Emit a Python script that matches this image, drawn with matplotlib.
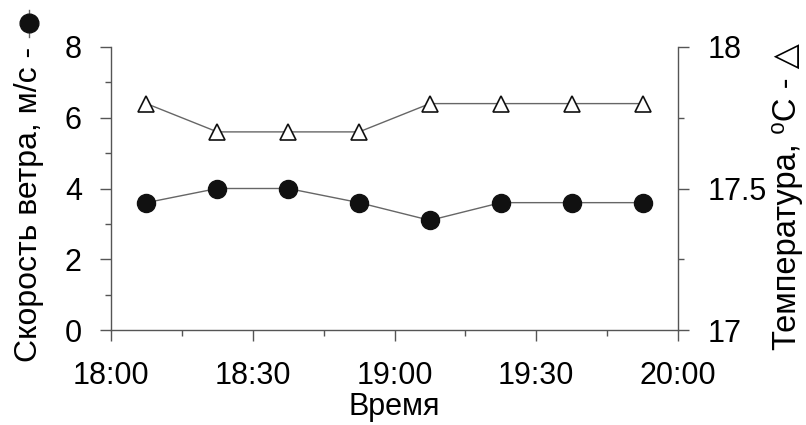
import numpy as np
import matplotlib
matplotlib.use('Agg')
import matplotlib.pyplot as plt
from matplotlib.ticker import MultipleLocator
from matplotlib.lines import Line2D

plt.rcParams['font.family'] = ['Liberation Sans', 'DejaVu Sans']

# data
minutes = [7.5, 22.5, 37.5, 52.5, 67.5, 82.5, 97.5, 112.5]  # minutes after 18:00
wind = [3.6, 4.0, 4.0, 3.6, 3.1, 3.6, 3.6, 3.6]
temp = [17.8, 17.7, 17.7, 17.7, 17.8, 17.8, 17.8, 17.8]
xtick_pos = [0, 30, 60, 90, 120]
xtick_labels = ['18:00', '18:30', '19:00', '19:30', '20:00']
t_ticks = [17, 17.5, 18]
t_labels = ['17', '17.5', '18']

axis_col = '#555555'
line_col = '#666666'

fig = plt.figure(figsize=(8.06, 4.25), dpi=100)
ax = fig.add_axes([111 / 806, 1 - 330 / 425, (678 - 111) / 806, (330 - 47) / 425])
ax2 = ax.twinx()

ax.plot(minutes, wind, color=line_col, linewidth=1.0, marker='o', markersize=13,
        markerfacecolor='#111111', markeredgecolor='#111111', zorder=3)
ax2.plot(minutes, temp, color=line_col, linewidth=1.0, marker='^', markersize=12,
         markerfacecolor='white', markeredgecolor='#111111', markeredgewidth=1.2, zorder=3)

ax.set_xlim(0, 120)
ax.set_ylim(0, 8)
ax2.set_ylim(17, 18)

ax.set_xticks(xtick_pos)
ax.set_xticklabels(xtick_labels)
ax.xaxis.set_minor_locator(MultipleLocator(15))
ax.yaxis.set_major_locator(MultipleLocator(2))
ax.yaxis.set_minor_locator(MultipleLocator(1))
ax2.set_yticks(t_ticks)
ax2.set_yticklabels(t_labels)
ax2.yaxis.set_minor_locator(MultipleLocator(0.25))

for a in (ax, ax2):
    a.spines['top'].set_visible(False)
    for s in a.spines.values():
        s.set_color(axis_col)
        s.set_linewidth(1.0)
    a.tick_params(which='major', length=8, width=1, color=axis_col, labelsize=22, pad=13)
    a.tick_params(which='minor', length=4, width=1, color=axis_col)
ax2.spines['left'].set_visible(False)
ax2.spines['bottom'].set_visible(False)
ax.spines['right'].set_visible(False)
ax.tick_params(axis='x', pad=14)

ax.set_xlabel('Время', fontsize=22, labelpad=1)
ax.set_ylabel('Скорость ветра, м/с -', fontsize=23)
ax.yaxis.set_label_coords(-0.118, 0.445)
ax2.set_ylabel('Температура, ⁰C - △', fontsize=23.5, rotation=90)
ax2.yaxis.set_label_coords(1.166, 0.47)

# symbol after the left axis label (line with marker, like a legend key)
fig.canvas.draw()
bb = ax.yaxis.label.get_window_extent()
W, H = fig.bbox.width, fig.bbox.height
xc = (bb.x0 + bb.x1) / 2 / W
yc = (bb.y1 + 24) / H
fig.add_artist(Line2D([xc, xc], [yc - 14 / H, yc + 13 / H], transform=fig.transFigure,
                      color=line_col, linewidth=1.0))
fig.add_artist(Line2D([xc], [yc], transform=fig.transFigure, color='#111111',
                      marker='o', markersize=13.5, linestyle='none'))

fig.savefig('out.png', dpi=100)
